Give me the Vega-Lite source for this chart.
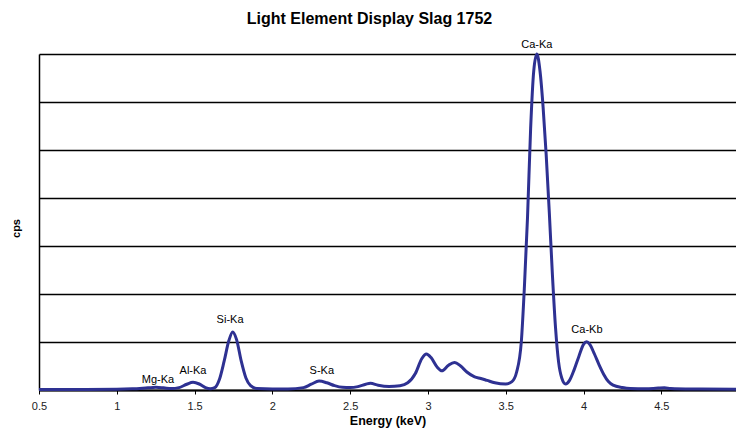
{
  "$schema": "https://vega.github.io/schema/vega-lite/v6.json",
  "width": 697,
  "height": 336,
  "autosize": {"type": "none"},
  "padding": {"left": 39, "top": 54, "right": 0, "bottom": 38},
  "background": "white",
  "title": {
    "text": "Light Element Display Slag 1752",
    "font": "Liberation Sans",
    "fontSize": 16,
    "fontWeight": "bold",
    "color": "black",
    "anchor": "middle",
    "dx": -18,
    "offset": 12
  },
  "config": {
    "view": {"stroke": null},
    "font": "Liberation Sans"
  },
  "datasets": {
    "spectrum": [
      {"keV": 0.5, "cps": 2}, {"keV": 0.8, "cps": 2}, {"keV": 1.0, "cps": 3}, {"keV": 1.1, "cps": 5},
      {"keV": 1.2, "cps": 9}, {"keV": 1.25, "cps": 11}, {"keV": 1.3, "cps": 9}, {"keV": 1.35, "cps": 6},
      {"keV": 1.4, "cps": 10}, {"keV": 1.45, "cps": 24}, {"keV": 1.49, "cps": 32}, {"keV": 1.53, "cps": 25},
      {"keV": 1.57, "cps": 10}, {"keV": 1.6, "cps": 5}, {"keV": 1.63, "cps": 10}, {"keV": 1.66, "cps": 45},
      {"keV": 1.69, "cps": 120}, {"keV": 1.72, "cps": 205}, {"keV": 1.745, "cps": 242}, {"keV": 1.77, "cps": 210},
      {"keV": 1.8, "cps": 120}, {"keV": 1.83, "cps": 50}, {"keV": 1.86, "cps": 18}, {"keV": 1.9, "cps": 6},
      {"keV": 2.0, "cps": 4}, {"keV": 2.1, "cps": 4}, {"keV": 2.2, "cps": 10}, {"keV": 2.25, "cps": 24},
      {"keV": 2.3, "cps": 37}, {"keV": 2.35, "cps": 30}, {"keV": 2.4, "cps": 18}, {"keV": 2.45, "cps": 11},
      {"keV": 2.5, "cps": 10}, {"keV": 2.55, "cps": 14}, {"keV": 2.6, "cps": 24}, {"keV": 2.63, "cps": 28},
      {"keV": 2.68, "cps": 20}, {"keV": 2.75, "cps": 15}, {"keV": 2.82, "cps": 18}, {"keV": 2.87, "cps": 30},
      {"keV": 2.92, "cps": 70}, {"keV": 2.96, "cps": 130}, {"keV": 2.99, "cps": 150}, {"keV": 3.02, "cps": 135},
      {"keV": 3.06, "cps": 95}, {"keV": 3.09, "cps": 80}, {"keV": 3.13, "cps": 102}, {"keV": 3.17, "cps": 115},
      {"keV": 3.21, "cps": 100}, {"keV": 3.25, "cps": 75}, {"keV": 3.3, "cps": 55}, {"keV": 3.34, "cps": 48},
      {"keV": 3.38, "cps": 40}, {"keV": 3.43, "cps": 30}, {"keV": 3.5, "cps": 25}, {"keV": 3.54, "cps": 35},
      {"keV": 3.57, "cps": 75}, {"keV": 3.6, "cps": 200}, {"keV": 3.62, "cps": 430}, {"keV": 3.64, "cps": 720},
      {"keV": 3.66, "cps": 1090}, {"keV": 3.68, "cps": 1330}, {"keV": 3.7, "cps": 1400}, {"keV": 3.72, "cps": 1330},
      {"keV": 3.74, "cps": 1180}, {"keV": 3.76, "cps": 980}, {"keV": 3.78, "cps": 740}, {"keV": 3.8, "cps": 480},
      {"keV": 3.82, "cps": 260}, {"keV": 3.84, "cps": 115}, {"keV": 3.86, "cps": 50}, {"keV": 3.885, "cps": 25},
      {"keV": 3.91, "cps": 40}, {"keV": 3.94, "cps": 85}, {"keV": 3.97, "cps": 140}, {"keV": 4.0, "cps": 190},
      {"keV": 4.02, "cps": 201}, {"keV": 4.04, "cps": 190}, {"keV": 4.07, "cps": 150}, {"keV": 4.1, "cps": 105},
      {"keV": 4.13, "cps": 65}, {"keV": 4.16, "cps": 35}, {"keV": 4.19, "cps": 20}, {"keV": 4.25, "cps": 10},
      {"keV": 4.3, "cps": 6}, {"keV": 4.4, "cps": 5}, {"keV": 4.48, "cps": 8}, {"keV": 4.52, "cps": 9},
      {"keV": 4.56, "cps": 6}, {"keV": 4.7, "cps": 4}, {"keV": 4.98, "cps": 3}
    ],
    "labels": [
      {"keV": 1.265, "cps": 42, "label": "Mg-Ka"},
      {"keV": 1.49, "cps": 80, "label": "Al-Ka"},
      {"keV": 1.728, "cps": 292, "label": "Si-Ka"},
      {"keV": 2.318, "cps": 80, "label": "S-Ka"},
      {"keV": 3.70, "cps": 1437, "label": "Ca-Ka"},
      {"keV": 4.022, "cps": 250, "label": "Ca-Kb"}
    ]
  },
  "layer": [
    {
      "data": {"name": "spectrum"},
      "mark": {"type": "line", "interpolate": "monotone", "color": "#2E3192", "strokeWidth": 3},
      "encoding": {
        "x": {
          "field": "keV", "type": "quantitative",
          "scale": {"domain": [0.5, 4.98], "nice": false, "zero": false},
          "axis": {
            "title": "Energy (keV)",
            "titleFont": "Liberation Sans", "titleFontSize": 12.5, "titleFontWeight": "bold", "titleColor": "black",
            "titlePadding": 3,
            "values": [0.5, 1, 1.5, 2, 2.5, 3, 3.5, 4, 4.5],
            "labelExpr": "'' + datum.value",
            "labelFlush": false,
            "labelFont": "Liberation Sans", "labelFontSize": 11, "labelColor": "#222",
            "labelPadding": 6,
            "tickColor": "black", "tickSize": 4, "tickWidth": 1,
            "domainColor": "black", "domainWidth": 2,
            "grid": false
          }
        },
        "y": {
          "field": "cps", "type": "quantitative",
          "scale": {"domain": [0, 1400], "nice": false},
          "axis": {
            "title": "cps",
            "titleFont": "Liberation Sans", "titleFontSize": 11, "titleFontWeight": "bold", "titleColor": "black",
            "titlePadding": 18,
            "titleY": 174,
            "values": [0, 200, 400, 600, 800, 1000, 1200, 1400],
            "labels": false, "ticks": false,
            "domainColor": "black", "domainWidth": 1.5,
            "grid": true, "gridColor": "black", "gridWidth": 1.3, "gridOpacity": 1
          }
        }
      }
    },
    {
      "data": {"name": "labels"},
      "mark": {"type": "text", "font": "Liberation Sans", "fontSize": 11, "color": "black", "baseline": "middle", "align": "center"},
      "encoding": {
        "x": {"field": "keV", "type": "quantitative"},
        "y": {"field": "cps", "type": "quantitative"},
        "text": {"field": "label"}
      }
    }
  ]
}
